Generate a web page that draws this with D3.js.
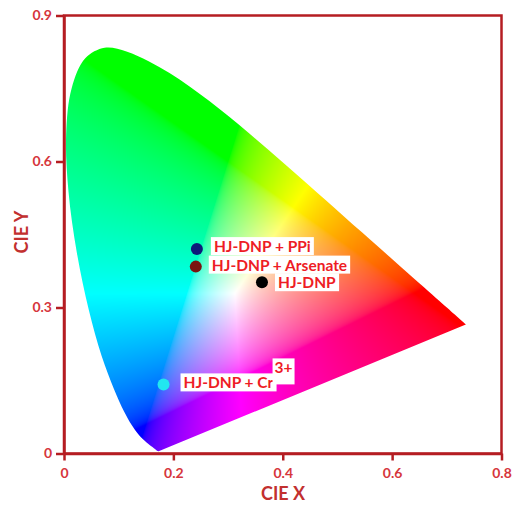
<!DOCTYPE html>
<html><head><meta charset="utf-8">
<script src="https://cdn.jsdelivr.net/npm/d3@7"></script>
<style>
html,body{margin:0;padding:0;background:#fff;}
svg{display:block;}
</style></head>
<body>
<svg id="chart" width="513" height="505"></svg>
<script>
// CIE 1931 2° spectral locus (380–700 nm, 5 nm steps)
const locusX = [0.1741,0.1740,0.1738,0.1736,0.1733,0.1730,0.1726,0.1721,0.1714,0.1703,0.1689,0.1669,0.1644,0.1611,0.1566,0.1510,0.1440,0.1355,0.1241,0.1096,0.0913,0.0687,0.0454,0.0235,0.0082,0.0039,0.0139,0.0389,0.0743,0.1142,0.1547,0.1929,0.2296,0.2658,0.3016,0.3373,0.3731,0.4087,0.4441,0.4788,0.5125,0.5448,0.5752,0.6029,0.6270,0.6482,0.6658,0.6801,0.6915,0.7006,0.7079,0.7140,0.7190,0.7230,0.7260,0.7283,0.7300,0.7311,0.7320,0.7327,0.7334,0.7340,0.7344,0.7346,0.7347];
const locusY = [0.0050,0.0050,0.0049,0.0049,0.0048,0.0048,0.0048,0.0048,0.0051,0.0058,0.0069,0.0086,0.0109,0.0138,0.0177,0.0227,0.0297,0.0399,0.0578,0.0868,0.1327,0.2007,0.2950,0.4127,0.5384,0.6548,0.7502,0.8120,0.8338,0.8262,0.8059,0.7816,0.7543,0.7243,0.6923,0.6589,0.6245,0.5896,0.5547,0.5202,0.4866,0.4544,0.4242,0.3965,0.3725,0.3514,0.3340,0.3197,0.3083,0.2993,0.2920,0.2859,0.2809,0.2770,0.2740,0.2717,0.2700,0.2689,0.2680,0.2673,0.2666,0.2660,0.2656,0.2654,0.2653];

// Samples
const sampleNames = ["HJ-DNP + PPi","HJ-DNP + Arsenate","HJ-DNP","HJ-DNP + Cr"];
const sampleSup   = ["","","","3+"];
const sampleX     = [0.243,0.241,0.362,0.182];
const sampleY     = [0.420,0.384,0.352,0.142];
const sampleColor = ["#0d1a7a","#7a1410","#000000","#22e6f0"];

const xTicks = [0,0.2,0.4,0.6,0.8];
const yTicks = [0,0.3,0.6,0.9];
const xTickLabels = ["0","0.2","0.4","0.6","0.8"];
const yTickLabels = ["0","0.3","0.6","0.9"];

const L = 64, R = 501.5, T = 15.5, B = 453.5;
const x = d3.scaleLinear().domain([0,0.8]).range([L,R]);
const y = d3.scaleLinear().domain([0,0.9]).range([B,T]);

const svg = d3.select("#chart");
const axisColor = "#b51d22", tickTextColor = "#d6363c", titleColor = "#c2302f";
const font = "Lato, 'Liberation Sans', sans-serif";

// colour field
const W = Math.ceil(R-L), H = Math.ceil(B-T);
const cv = document.createElement("canvas");
cv.width = W; cv.height = H;
const ctx = cv.getContext("2d");
const img = ctx.createImageData(W,H);
function gam(c){ return c<=0.0031308 ? 12.92*c : 1.055*Math.pow(c,1/2.4)-0.055; }
for(let j=0;j<H;j++){
  for(let i=0;i<W;i++){
    const cx = x.invert(L+i+0.5), cy = Math.max(1e-4, y.invert(T+j+0.5));
    const X = cx/cy, Y = 1, Z = (1-cx-cy)/cy;
    let r = 3.2406*X -1.5372*Y -0.4986*Z;
    let g = -0.9689*X +1.8758*Y +0.0415*Z;
    let b = 0.0557*X -0.2040*Y +1.0570*Z;
    r=Math.max(0,r); g=Math.max(0,g); b=Math.max(0,b);
    const m = Math.max(r,g,b)||1;
    const k = (j*W+i)*4;
    img.data[k]=Math.round(255*gam(r/m));
    img.data[k+1]=Math.round(255*gam(g/m));
    img.data[k+2]=Math.round(255*gam(b/m));
    img.data[k+3]=255;
  }
}
ctx.putImageData(img,0,0);

const locus = locusX.map((v,i)=>[v,locusY[i]]);
const line = d3.line().x(d=>x(d[0])).y(d=>y(d[1])).curve(d3.curveCatmullRom.alpha(0.5));
svg.append("clipPath").attr("id","locusClip").append("path").attr("d",line(locus)+"Z");
svg.append("image").attr("x",L).attr("y",T).attr("width",W).attr("height",H)
  .attr("preserveAspectRatio","none")
  .attr("href",cv.toDataURL()).attr("clip-path","url(#locusClip)");

// frame
svg.append("rect").attr("x",L).attr("y",T).attr("width",R-L).attr("height",B-T)
  .attr("fill","none").attr("stroke",axisColor).attr("stroke-width",2.5);

// axes
const gx = svg.append("g").attr("transform",`translate(0,${B})`)
  .call(d3.axisBottom(x).tickValues(xTicks).tickFormat((d,i)=>xTickLabels[i]).tickSize(7).tickSizeOuter(0));
const gy = svg.append("g").attr("transform",`translate(${L},0)`)
  .call(d3.axisLeft(y).tickValues(yTicks).tickFormat((d,i)=>yTickLabels[i]).tickSize(8).tickSizeOuter(0));
[gx,gy].forEach(g=>{
  g.select(".domain").attr("stroke",axisColor).attr("stroke-width",2.5);
  g.selectAll(".tick line").attr("stroke",axisColor).attr("stroke-width",2.5);
  g.selectAll(".tick text").attr("fill",tickTextColor).style("font-family",font)
   .style("font-weight","bold").style("font-size","14px");
});
gx.selectAll(".tick text").attr("dy","1.05em");
gy.selectAll(".tick text").attr("dx","-1px");

svg.append("text").attr("x",283).attr("y",500).attr("text-anchor","middle")
  .attr("fill",titleColor).style("font-family",font).style("font-weight","bold").style("font-size","18px")
  .text("CIE X");
svg.append("text").attr("transform","translate(28,232) rotate(-90)").attr("text-anchor","middle")
  .attr("fill",titleColor).style("font-family",font).style("font-weight","bold").style("font-size","18px")
  .text("CIE Y");

// points and labels
const labelDx = [17,16,16,20];
const labelDy = [3,4,6,4];
const labelColor = "#ee1c25";
const g = svg.append("g");
sampleNames.forEach((name,i)=>{
  const px = x(sampleX[i]), py = y(sampleY[i]);
  g.append("circle").attr("cx",px).attr("cy",py).attr("r",6).attr("fill",sampleColor[i]);
  const lg = g.append("g");
  const bg = lg.append("rect").attr("fill","#fff");
  const t = lg.append("text").attr("x",px+labelDx[i]).attr("y",py+labelDy[i])
    .attr("fill",labelColor).style("font-family",font).style("font-weight","bold").style("font-size","15.5px")
    .text(name);
  const bb = t.node().getBBox();
  bg.attr("x",bb.x-3).attr("y",bb.y).attr("width",bb.width+6).attr("height",bb.height);
  if(sampleSup[i]){
    const bg2 = lg.append("rect").attr("fill","#fff");
    const s = lg.append("text").attr("x",bb.x+bb.width+1).attr("y",py+labelDy[i]-15)
      .attr("fill",labelColor).style("font-family",font).style("font-weight","bold").style("font-size","15.5px")
      .text(sampleSup[i]);
    const sb = s.node().getBBox();
    bg2.attr("x",sb.x-2).attr("y",sb.y).attr("width",sb.width+4).attr("height",sb.height+8);
  }
});
</script>
</body></html>
